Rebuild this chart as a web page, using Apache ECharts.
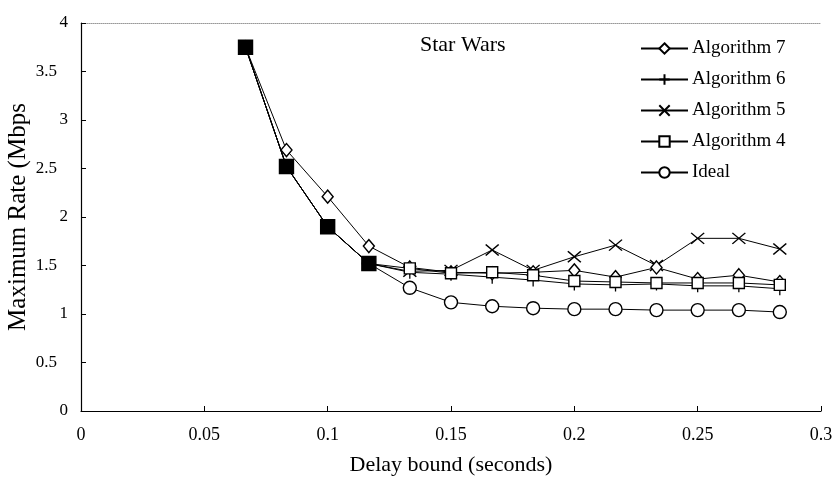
<!DOCTYPE html>
<html>
<head>
<meta charset="utf-8">
<script src="https://cdn.jsdelivr.net/npm/echarts@6/dist/echarts.min.js"></script>
<style>html,body{margin:0;padding:0;background:#fff}#c{width:836px;height:487px}</style>
</head>
<body>
<div id="c"></div>
<script>
var delays = [0.0667, 0.0833, 0.1, 0.1167, 0.1333, 0.15, 0.1667, 0.1833, 0.2, 0.2167, 0.2333, 0.25, 0.2667, 0.2833];
var alg7  = [3.75, 2.69, 2.21, 1.70, 1.48, 1.43, 1.42, 1.43, 1.45, 1.38, 1.48, 1.36, 1.40, 1.33];
var alg6  = [3.75, 2.52, 1.90, 1.52, 1.43, 1.41, 1.38, 1.35, 1.31, 1.30, 1.31, 1.29, 1.29, 1.26];
var alg5  = [3.75, 2.52, 1.90, 1.52, 1.44, 1.45, 1.66, 1.45, 1.59, 1.71, 1.50, 1.78, 1.78, 1.67];
var alg4  = [3.75, 2.52, 1.90, 1.52, 1.47, 1.42, 1.43, 1.40, 1.34, 1.33, 1.32, 1.32, 1.32, 1.30];
var ideal = [3.75, 2.52, 1.90, 1.52, 1.27, 1.12, 1.08, 1.06, 1.05, 1.05, 1.04, 1.04, 1.04, 1.02];
var seriesNames = ['Algorithm 7', 'Algorithm 6', 'Algorithm 5', 'Algorithm 4', 'Ideal'];
var xTicks = [0, 0.05, 0.1, 0.15, 0.2, 0.25, 0.3];
var yTicks = [0, 0.5, 1, 1.5, 2, 2.5, 3, 3.5, 4];

var FONT = '"Liberation Serif", "Times New Roman", serif';
var symbols = {
  'Algorithm 7': {symbol: 'diamond', size: [11, 13]},
  'Algorithm 6': {symbol: 'path://M5,0L5,10M0,5L10,5', size: [11, 13]},
  'Algorithm 5': {symbol: 'path://M0,0L10,10M10,0L0,10', size: [13, 11]},
  'Algorithm 4': {symbol: 'rect', size: [11, 11]},
  'Ideal': {symbol: 'circle', size: [13, 13]}
};
var zOrder = {'Algorithm 7': 6, 'Algorithm 6': 4, 'Algorithm 5': 5, 'Algorithm 4': 7, 'Ideal': 3};
var values = [alg7, alg6, alg5, alg4, ideal];

function fmt(v) { return String(Math.round(v * 1000) / 1000); }

var series = seriesNames.map(function (name, si) {
  var vals = values[si];
  return {
    name: name,
    type: 'line',
    symbol: symbols[name].symbol,
    symbolSize: symbols[name].size,
    showAllSymbol: true,
    lineStyle: {color: '#000', width: 1},
    itemStyle: {color: '#fff', borderColor: '#000', borderWidth: 1.4},
    z: zOrder[name],
    data: vals.map(function (v, i) {
      if (name === 'Algorithm 4' && i < 4) {
        return {value: [delays[i], v], symbolSize: 14, itemStyle: {color: '#000'}};
      }
      return [delays[i], v];
    })
  };
});

var chart = echarts.init(document.getElementById('c'), null, {renderer: 'canvas'});
chart.setOption({
  animation: false,
  backgroundColor: '#fff',
  textStyle: {fontFamily: FONT, color: '#000'},
  title: {
    text: 'Star Wars',
    left: 415, top: 29,
    textStyle: {fontFamily: FONT, fontSize: 22, fontWeight: 'normal', color: '#000'}
  },
  legend: {
    orient: 'vertical',
    left: 635, top: 34,
    itemWidth: 47, itemHeight: 13,
    itemGap: 12,
    data: seriesNames,
    textStyle: {fontFamily: FONT, fontSize: 19, color: '#000', padding: [0, 0, 0, -1]},
    inactiveColor: '#000'
  },
  grid: {left: 81, right: 15, top: 23, bottom: 76, containLabel: false, outerBoundsMode: 'none'},
  xAxis: [{
    type: 'value', min: xTicks[0], max: xTicks[xTicks.length - 1], interval: 0.05,
    name: 'Delay bound (seconds)', nameLocation: 'middle', nameGap: 43,
    nameTextStyle: {fontFamily: FONT, fontSize: 22, color: '#000'},
    axisLine: {lineStyle: {color: '#000', width: 1.2}},
    axisTick: {inside: true, length: 5, lineStyle: {color: '#000'}},
    axisLabel: {fontFamily: FONT, fontSize: 18, color: '#000', margin: 15, formatter: fmt},
    splitLine: {show: false}
  }, {
    type: 'value', position: 'top', min: 0, max: 0.3,
    axisLine: {show: true, lineStyle: {color: '#999', type: 'dotted', width: 1}},
    axisTick: {show: false}, axisLabel: {show: false}, splitLine: {show: false}
  }],
  yAxis: {
    type: 'value', min: yTicks[0], max: yTicks[yTicks.length - 1], interval: 0.5,
    name: 'Maximum Rate (Mbps', nameLocation: 'middle', nameGap: 50, nameMoveOverlap: false,
    nameTextStyle: {fontFamily: FONT, fontSize: 25, color: '#000'},
    axisLine: {show: true, lineStyle: {color: '#000', width: 1.2}},
    axisTick: {show: true, inside: true, length: 5, lineStyle: {color: '#000'}},
    axisLabel: {
      fontFamily: FONT, fontSize: 17, color: '#000', margin: 13,
      formatter: function (v) {
        var s = fmt(v);
        return s.indexOf('.') >= 0 ? '{d|' + s + '}' : '{i|' + s + '}';
      },
      rich: {
        d: {fontFamily: FONT, fontSize: 17, color: '#000', padding: [0, 11, 0, 0]},
        i: {fontFamily: FONT, fontSize: 17, color: '#000'}
      }
    },
    splitLine: {show: false}
  },
  series: series
});
</script>
</body>
</html>
